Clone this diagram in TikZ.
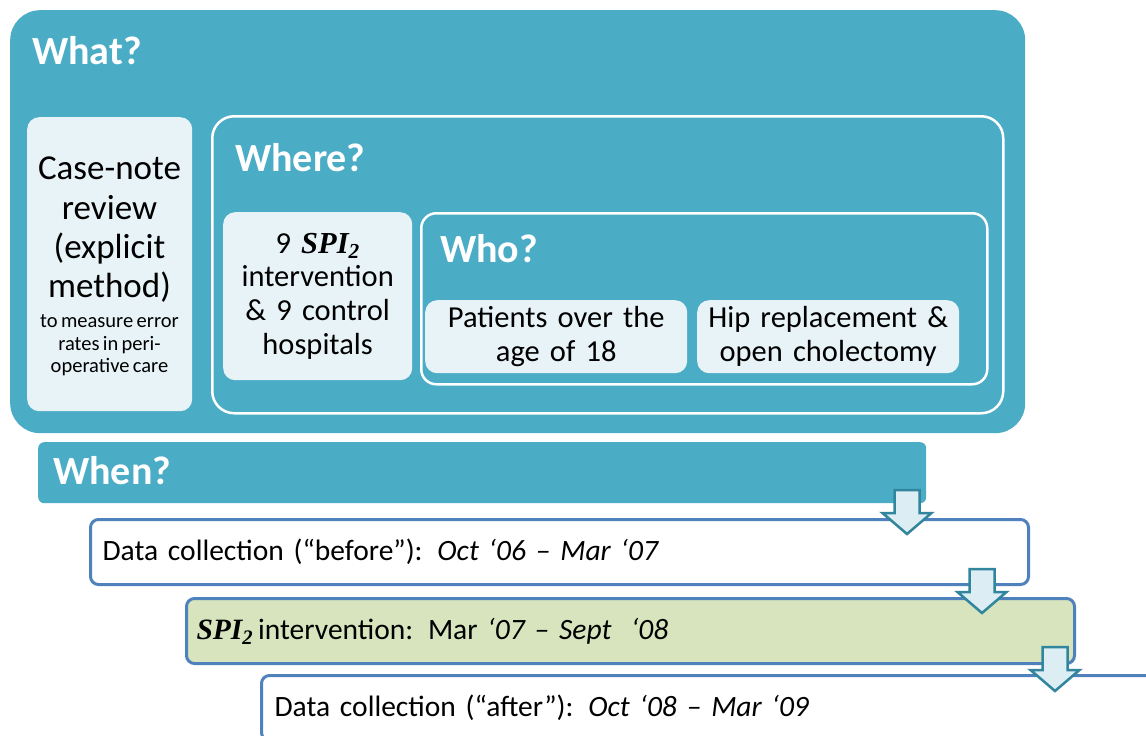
\documentclass[tikz,border=0pt]{standalone}
\usepackage{fontspec}
\setmainfont{Carlito}
\newfontfamily\spifont{Liberation Serif}
\definecolor{panelblue}{HTML}{4BACC6}
\definecolor{cardfill}{HTML}{E8F3F7}
\definecolor{phaseline}{HTML}{4F81BD}
\definecolor{phasegreen}{HTML}{D7E4BD}
\definecolor{arrowline}{HTML}{31859C}
\definecolor{arrowfill}{HTML}{DCEEF4}
\newcommand{\spitwo}{{\spifont\bfseries\itshape SPI\textsubscript{2}}}
\begin{document}
\begin{tikzpicture}[x=1pt,y=-1pt,
  panel/.style={fill=panelblue, draw=none, rounded corners=#1, anchor=north west, inner sep=0pt},
  framed/.style={fill=panelblue, draw=white, line width=2.5pt, rounded corners=#1, anchor=north west, inner sep=0pt},
  card/.style={fill=cardfill, draw=none, rounded corners=12pt, anchor=north west, inner sep=0pt, align=center},
  head/.style={font=\bfseries\fontsize{40}{48}\selectfont, text=white, anchor=base west, inner sep=0pt},
  phase/.style={draw=phaseline, line width=3pt, rounded corners=8pt, anchor=north west,
    minimum height=65pt, inner xsep=12pt, inner ysep=0pt, align=left,
    font=\fontsize{29.5}{34}\selectfont},
  blockarrow/.pic={
    \draw[draw=arrowline, fill=arrowfill, line width=2.5pt, line join=miter]
      (0,0) -- (-24.5,-21) -- (-12.5,-21) -- (-12.5,-44) -- (12.5,-44)
      -- (12.5,-21) -- (24.5,-21) -- cycle;}
]
\clip (0,0) rectangle (1146,736);
\fill[white] (0,0) rectangle (1146,736);

% What? panel and its contents
\node[panel=30pt, minimum width=1015pt, minimum height=423pt] (what) at (10,10) {};
\node[head] (whatlbl) at (32,64) {What?};
\node[card, minimum width=165pt, minimum height=294pt] (casenote) at (27,117) {};
\node[anchor=north, inner sep=0pt, text width=165pt, align=center] (casetext) at (109.5,157)
  {{\fontsize{35}{39.3}\selectfont Case-note\\review\\(explicit\\method)\par}\vskip 7.5pt
   \noindent{\fontsize{20.5}{22.5}\selectfont to measure error\\rates in peri-\\operative care\par}};

% Where? panel
\node[framed=22pt, minimum width=791pt, minimum height=297pt] (where) at (211,115) {};
\node[head] (wherelbl) at (235,171) {Where?};
\node[card, minimum width=189pt, minimum height=168pt, text width=189pt,
  font=\fontsize{30.5}{33.7}\selectfont] (hospitals) at (223,212)
  {9 \spitwo\\intervention\\\& 9 control\\hospitals};

% Who? panel
\node[framed=15pt, minimum width=566pt, minimum height=171pt] (who) at (420,212) {};
\node[head] (wholbl) at (440,262) {Who?};
\node[card, minimum width=262pt, minimum height=73pt, text width=262pt,
  font=\fontsize{30.5}{34}\selectfont] (patients) at (425,300)
  {Patients over the\\age of 18};
\node[card, minimum width=262pt, minimum height=73pt, text width=262pt,
  font=\fontsize{30.5}{34}\selectfont] (surgery) at (697,300)
  {Hip replacement \&\\open cholectomy};

% When? bar and the three phases
\node[panel=6pt, minimum width=888pt, minimum height=61pt] (when) at (38,442) {};
\node[head] (whenlbl) at (53,484) {When?};

\node[phase, fill=white, text width=914pt] (before) at (89,518)
  {Data collection (“before”): \textit{Oct ‘06 – Mar ‘07}};
\node[phase, fill=phasegreen, text width=868pt, inner xsep=10pt] (spi) at (185,597)
  {\spitwo\,intervention: Mar \textit{‘07 – Sept~~‘08}};
\node[phase, fill=white, text width=936pt, inner xsep=13pt] (after) at (260,674)
  {Data collection (“after”): \textit{Oct ‘08 – Mar ‘09}};

% step arrows between the phases
\pic (step1) at (907,534) {blockarrow};
\pic (step2) at (982,613) {blockarrow};
\pic (step3) at (1055,691) {blockarrow};
\end{tikzpicture}
\end{document}
